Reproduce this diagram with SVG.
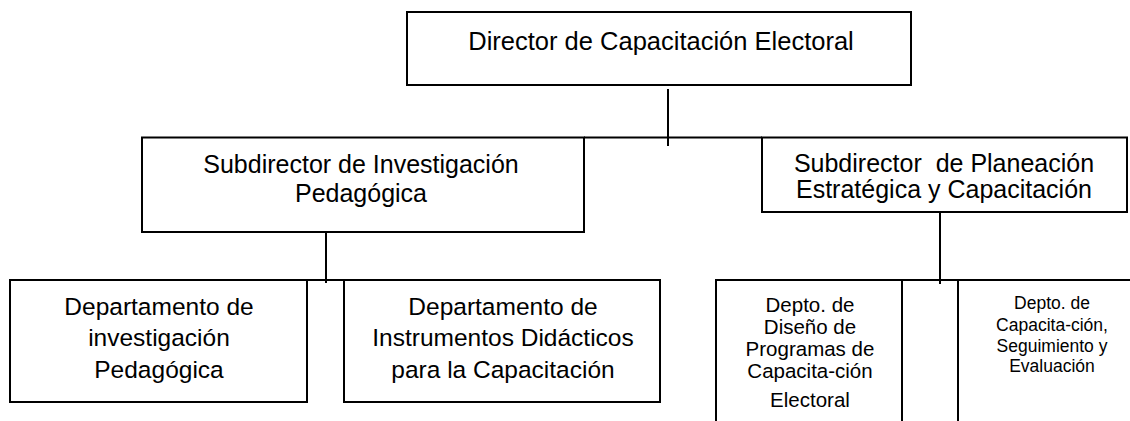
<svg xmlns="http://www.w3.org/2000/svg" width="1130" height="421" viewBox="0 0 1130 421">
<style>
.box{fill:#fff;stroke:#000;stroke-width:2}
.ln{stroke:#000;stroke-width:2;fill:none}
text{font-family:"Liberation Sans",Arial,sans-serif;fill:#000;text-anchor:middle}
</style>
<rect width="1130" height="421" fill="#fff"/>
<g id="connectors">
<line class="ln" x1="668" y1="89" x2="668" y2="146"/>
<line class="ln" x1="584" y1="137.5" x2="762" y2="137.5"/>
<line class="ln" x1="326" y1="227" x2="326" y2="283"/>
<line class="ln" x1="307" y1="280" x2="344" y2="280"/>
<line class="ln" x1="940" y1="209" x2="940" y2="284"/>
<line class="ln" x1="902" y1="280" x2="958" y2="280"/>
</g>
<g id="director">
<rect class="box" x="407" y="12" width="504" height="73"/>
<text x="661" y="50" font-size="25.5">Director de Capacitación Electoral</text>
</g>
<g id="sub-investigacion">
<rect class="box" x="142" y="137.5" width="442" height="94.5"/>
<text x="361" y="173" font-size="25">Subdirector de Investigación</text>
<text x="361" y="202" font-size="25">Pedagógica</text>
</g>
<g id="sub-planeacion">
<rect class="box" x="762" y="137.5" width="365" height="74.5"/>
<text x="944" y="172" font-size="25" style="white-space:pre" xml:space="preserve">Subdirector  de Planeación</text>
<text x="944" y="198" font-size="25">Estratégica y Capacitación</text>
</g>
<g id="depto-investigacion">
<rect class="box" x="10" y="280" width="297" height="122"/>
<text x="159" y="315" font-size="24.5">Departamento de</text>
<text x="159" y="346" font-size="24.5">investigación</text>
<text x="159" y="378" font-size="24.5">Pedagógica</text>
</g>
<g id="depto-instrumentos">
<rect class="box" x="344" y="280" width="316" height="122"/>
<text x="503" y="315" font-size="24.5">Departamento de</text>
<text x="503" y="346" font-size="24.5">Instrumentos Didácticos</text>
<text x="503" y="378" font-size="24.5">para la Capacitación</text>
</g>
<g id="depto-diseno">
<rect class="box" x="716" y="280" width="186" height="170"/>
<text x="810" y="312" font-size="20.5">Depto. de</text>
<text x="810" y="334" font-size="20.5">Diseño de</text>
<text x="810" y="356" font-size="20.5">Programas de</text>
<text x="810" y="378" font-size="20.5">Capacita-ción</text>
<text x="810" y="407" font-size="20.5">Electoral</text>
</g>
<g id="depto-capacitacion">
<rect class="box" x="958" y="280" width="190" height="170"/>
<text x="1052" y="309" font-size="17.5">Depto. de</text>
<text x="1052" y="331" font-size="17.5">Capacita-ción,</text>
<text x="1052" y="352" font-size="17.5">Seguimiento y</text>
<text x="1052" y="372" font-size="17.5">Evaluación</text>
</g>
</svg>
